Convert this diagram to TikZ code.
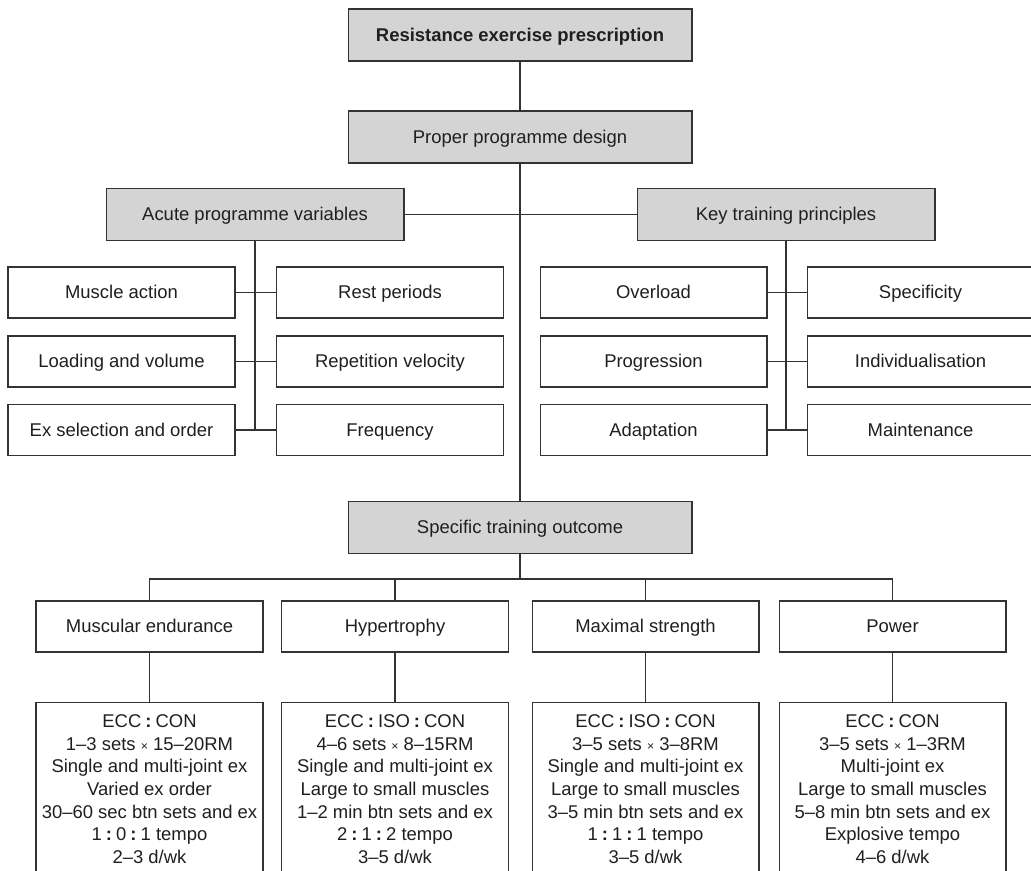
\documentclass[tikz,border=0pt]{standalone}
\usepackage{fontspec}
\setmainfont{Liberation Sans}
\newcommand{\ecol}{\hspace{0.22em}\textbf{:}\hspace{0.22em}}
\newcommand{\tms}{{\fontsize{7}{7}\selectfont\texttimes}}

\begin{document}
\begin{tikzpicture}[x=0.02cm,y=-0.02cm,
  every node/.style={font=\fontsize{10.5}{12.9}\selectfont, text=black!88},
  box/.style={draw=black!80, line width=0.6pt, minimum width=4.54cm, minimum height=1.02cm, inner sep=0pt,
              text height=7.5pt, text depth=0.4pt},
  headbox/.style={box, fill=black!17, minimum height=1.04cm},
  wide/.style={minimum width=6.88cm},
  detailbox/.style={box, anchor=north, minimum height=4cm},
  detailtext/.style={anchor=north, align=center, inner sep=0pt},
  link/.style={draw=black!80, line width=0.6pt}]
  \useasboundingbox (0,0) rectangle (1031,871);
  \clip (0,0) rectangle (1031,871);

  \node[headbox, wide, font=\fontsize{10.5}{12.9}\selectfont\bfseries] (res) at (520,35) {Resistance exercise prescription};
  \node[headbox, wide] (design) at (520,137) {Proper programme design};
  \node[headbox, minimum width=5.96cm] (acute) at (255,214.5) {Acute programme variables};
  \node[headbox, minimum width=5.96cm] (key) at (786,214.5) {Key training principles};
  \node[headbox, wide] (outcome) at (520,527.5) {Specific training outcome};

  \draw[link] (res) -- (design);
  \draw[link] (design.south) -- (outcome.north);
  \draw[link] (acute) -- (key);

  \foreach \n/\y/\a/\b/\c/\d in {1/292.5/Muscle action/Rest periods/Overload/Specificity,
                                 2/361.5/Loading and volume/Repetition velocity/Progression/Individualisation,
                                 3/430/Ex selection and order/Frequency/Adaptation/Maintenance}{
    \node[box] (a\n) at (121.5,\y) {\a};
    \node[box] (b\n) at (390,\y) {\b};
    \node[box] (c\n) at (653.5,\y) {\c};
    \node[box] (d\n) at (920.5,\y) {\d};
    \draw[link] (a\n) -- (b\n);
    \draw[link] (c\n) -- (d\n);
  }
  \draw[link] (acute.south) -- (acute.south |- a3.east);
  \draw[link] (key.south) -- (key.south |- c3.east);

  \foreach \n/\x/\t in {me/149.5/Muscular endurance, hy/395/Hypertrophy, ms/645.5/Maximal strength, pw/892.5/Power}{
    \node[box] (\n) at (\x,626.5) {\t};
    \node[detailbox] (\n2) at (\x,702) {};
    \draw[link] (\n) -- (\n2);
  }
  \coordinate (bus) at (520,579);
  \draw[link] (outcome) -- (bus);
  \draw[link] (me.north) |- (bus) -| (pw.north);
  \draw[link] (hy.north) -- (hy.north |- bus);
  \draw[link] (ms.north) -- (ms.north |- bus);

  \node[detailtext] (me3) at ([yshift=-7pt]me2.north) {ECC\ecol CON\\ 1--3 sets \tms{} 15--20RM\\ Single and multi-joint ex\\ Varied ex order\\ 30--60 sec btn sets and ex\\ 1\ecol 0\ecol 1 tempo\\ 2--3 d/wk};
  \node[detailtext] (hy3) at ([yshift=-7pt]hy2.north) {ECC\ecol ISO\ecol CON\\ 4--6 sets \tms{} 8--15RM\\ Single and multi-joint ex\\ Large to small muscles\\ 1--2 min btn sets and ex\\ 2\ecol 1\ecol 2 tempo\\ 3--5 d/wk};
  \node[detailtext] (ms3) at ([yshift=-7pt]ms2.north) {ECC\ecol ISO\ecol CON\\ 3--5 sets \tms{} 3--8RM\\ Single and multi-joint ex\\ Large to small muscles\\ 3--5 min btn sets and ex\\ 1\ecol 1\ecol 1 tempo\\ 3--5 d/wk};
  \node[detailtext] (pw3) at ([yshift=-7pt]pw2.north) {ECC\ecol CON\\ 3--5 sets \tms{} 1--3RM\\ Multi-joint ex\\ Large to small muscles\\ 5--8 min btn sets and ex\\ Explosive tempo\\ 4--6 d/wk};
\end{tikzpicture}
\end{document}
